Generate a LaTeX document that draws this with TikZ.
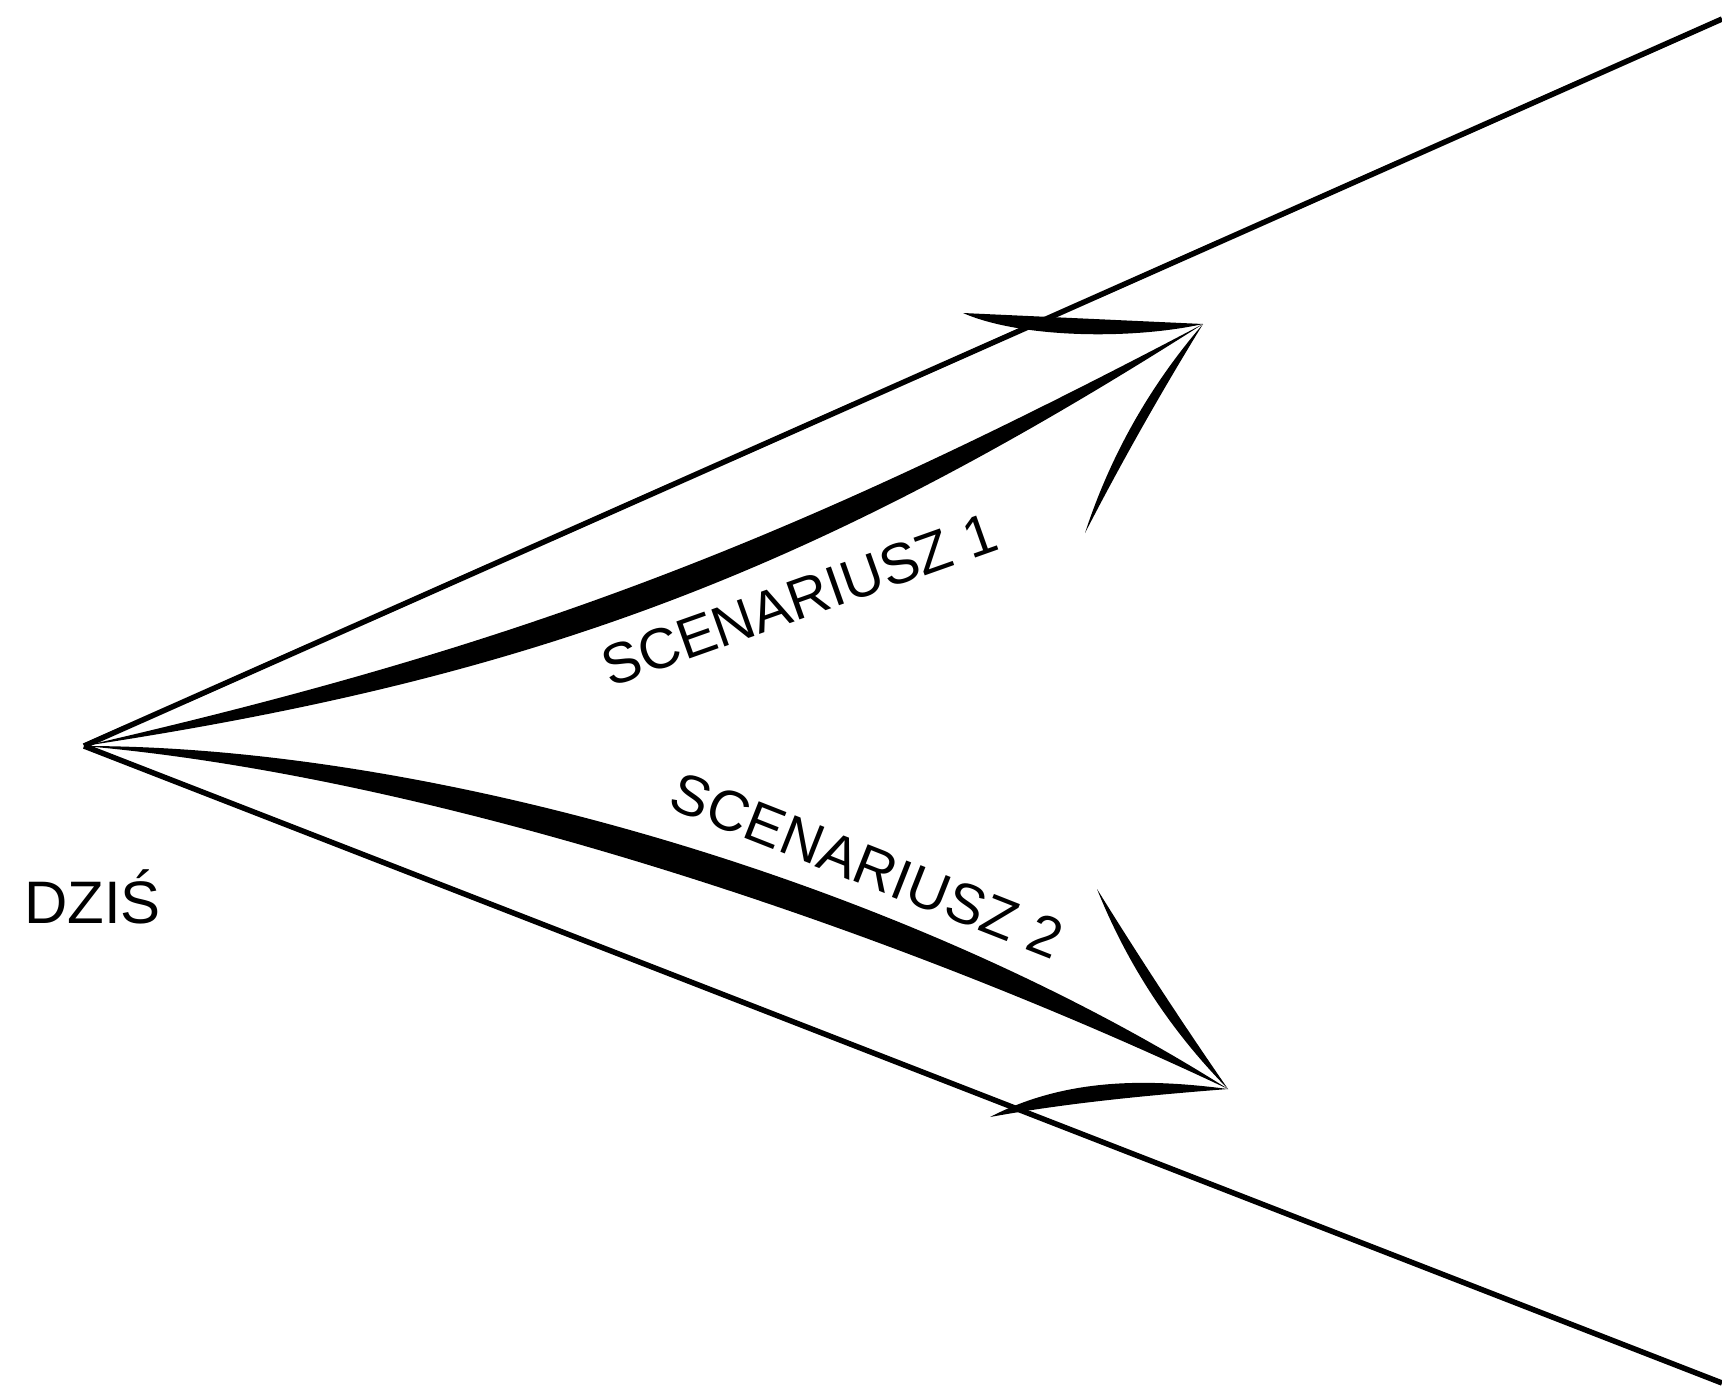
\documentclass[tikz,border=0pt]{standalone}
\usepackage{fontspec}
\setmainfont{Liberation Sans}
\usepackage{xcolor}
\usepackage{tikz}
\usetikzlibrary{calc}
\definecolor{ink}{HTML}{000000}
\tikzset{
  cone/.style={draw=ink,line width=5.5pt,line cap=butt},
  brush/.style={fill=ink,draw=none},
  scenlabel/.style={inner sep=0pt,anchor=base,text=ink,font=\fontsize{57}{60}\selectfont},
  todaylabel/.style={inner sep=0pt,anchor=base west,text=ink,font=\fontsize{60}{64}\selectfont},
}
% tapered stroke: from, control 1, control 2, to, offset 1, offset 2
\newcommand{\brushstroke}[6]{%
  \fill[brush] (#1) .. controls ($(#2)-(#5)$) and ($(#3)-(#6)$) .. (#4)
    .. controls ($(#3)+(#6)$) and ($(#2)+(#5)$) .. (#1) -- cycle;}

\begin{document}
\begin{tikzpicture}[x=1pt,y=-1pt]
  \fill[white] (0,0) rectangle (1722,1390);
  \useasboundingbox (0,0) rectangle (1722,1390);

  \coordinate (today) at (84,746);
  \coordinate (upend) at (1722,19);
  \coordinate (lowend) at (1722,1383);
  \coordinate (tip1) at (1203,324);
  \coordinate (tip2) at (1228,1089);
  \coordinate (barb1a) at (963,313);
  \coordinate (barb1b) at (1085,533);
  \coordinate (barb2a) at (1097,889);
  \coordinate (barb2b) at (990,1117);

  % the cone
  \draw[cone] (today) -- (upend);
  \draw[cone] (today) -- (lowend);

  % scenario 1
  \brushstroke{today}{530,661}{803,556}{tip1}{3.2,16.7}{9.5,16.4}
  \fill[brush] (tip1) .. controls (1123,320.3) and (1043,316.7) .. (barb1a)
    .. controls (1020,338) and (1130,340) .. (tip1) -- cycle;
  \fill[brush] (tip1) .. controls (1149.8,385.8) and (1110.4,455.4) .. (barb1b)
    .. controls (1121.7,461.8) and (1161.1,392.2) .. (tip1) -- cycle;

  % scenario 2
  \brushstroke{today}{430,761}{888,902}{tip2}{-0.6,15}{-11.6,21}
  \fill[brush] (tip2) .. controls (1170.9,1031.1) and (1127.3,964.5) .. (barb2a)
    .. controls (1139,956.8) and (1182.6,1023.4) .. (tip2) -- cycle;
  \fill[brush] (tip2) .. controls (1146.4,1078.4) and (1065.8,1077.9) .. (barb2b)
    .. controls (1068.7,1102.7) and (1148.3,1095.3) .. (tip2) -- cycle;

  \node[scenlabel,rotate=19.5] (scen1) at (806,618) {SCENARIUSZ 1};
  \node[scenlabel,rotate=-21.5] (scen2) at (860,884) {SCENARIUSZ 2};
  \node[todaylabel] (todaytext) at (24,923) {DZIŚ};
\end{tikzpicture}
\end{document}
